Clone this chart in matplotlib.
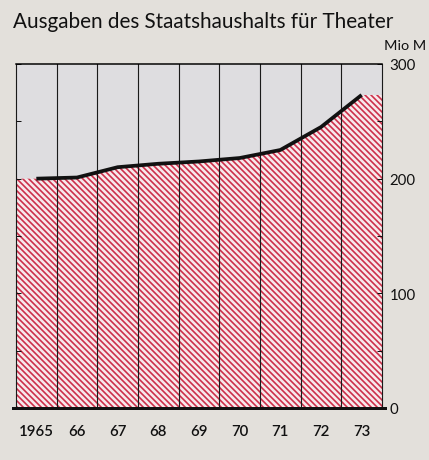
import matplotlib
matplotlib.use("Agg")
import matplotlib.pyplot as plt

# Ausgaben des Staatshaushalts fuer Theater (Mio M)
years = [1965, 1966, 1967, 1968, 1969, 1970, 1971, 1972, 1973]
year_labels = ["1965", "66", "67", "68", "69", "70", "71", "72", "73"]
spending = [200, 201, 210, 213, 215, 218, 225, 245, 273]
y_ticks = [0, 100, 200, 300]

plt.rcParams['font.family'] = ['Lato', 'DejaVu Sans']
plt.rcParams['hatch.linewidth'] = 1.3
plt.rcParams['hatch.color'] = '#cc2d48'

bg = '#e3e0db'
fig = plt.figure(figsize=(429 / 90, 461 / 90), dpi=90, facecolor=bg)
ax = fig.add_axes([16 / 429, 1 - 409 / 461, 366 / 429, 344 / 461])
ax.set_facecolor('#dedde0')

x0, x1 = years[0] - 0.5, years[-1] + 0.5

# hatched area, flat to both edges
area_x = [x0] + years + [x1]
area_y = [spending[0]] + spending + [spending[-1]]
ax.fill_between(area_x, 0, area_y, facecolor='#f7e8ea', edgecolor='#cc2d48',
                hatch='\\' * 5, linewidth=0, zorder=1)

# column separators
for yr in years[:-1]:
    ax.axvline(yr + 0.5, color='#1a1a1a', lw=0.9, zorder=2)

ax.plot(years, spending, color='#111111', lw=3.0, solid_capstyle='butt',
        solid_joinstyle='round', zorder=3)

ax.set_xlim(x0, x1)
ax.set_ylim(0, 300)

for s in ['left', 'right']:
    ax.spines[s].set_linewidth(0.9)
    ax.spines[s].set_color('#1a1a1a')
ax.spines['top'].set_linewidth(1.2)
ax.spines['bottom'].set_visible(False)
ax.plot([x0 - 0.08, x1 + 0.08], [0, 0], color='#111111', lw=2.4,
        clip_on=False, zorder=4)

ax.set_xticks(years)
ax.set_xticklabels(year_labels)
ax.tick_params(axis='x', length=0, pad=13, labelsize=12, colors='#111111')
for lbl in ax.get_xticklabels():
    lbl.set_fontweight('semibold')

ax.yaxis.tick_right()
ax.set_yticks(y_ticks)
ax.set_yticklabels([str(v) for v in y_ticks])
ax.set_yticks([50, 150, 250], minor=True)
ax.tick_params(axis='y', which='both', direction='in', length=4, width=0.8,
               left=True, right=True, pad=6, labelsize=12, colors='#111111')

fig.text(13 / 429, 1 - 22 / 461, "Ausgaben des Staatshaushalts für Theater",
         fontsize=16.5, ha='left', va='center', color='#111111')
fig.text(426 / 429, 1 - 46 / 461, "Mio M", fontsize=11.5, ha='right',
         va='center', color='#111111')

fig.savefig("out.png", dpi=90, facecolor=bg)
